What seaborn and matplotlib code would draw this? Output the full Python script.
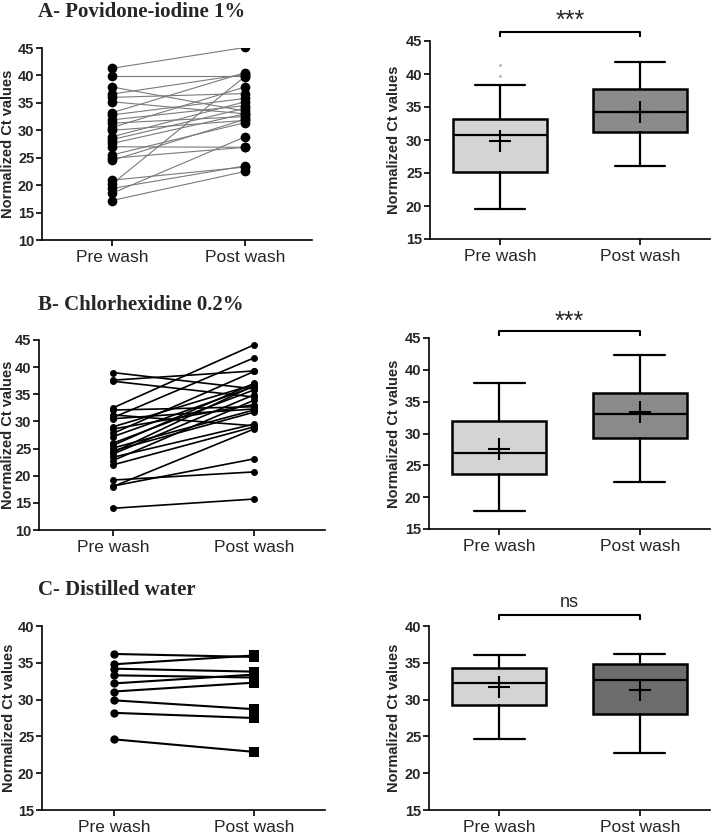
import numpy as np
import pandas as pd
import matplotlib
matplotlib.use("Agg")
import matplotlib.pyplot as plt
import seaborn as sns

sns.set_style("ticks")
plt.rcParams['font.family'] = ['Liberation Sans', 'DejaVu Sans']

# ---------------- data ----------------
categories = ["Pre wash", "Post wash"]

A_pre = [41.3, 39.9, 37.9, 36.6, 36.0, 35.2, 33.2, 32.8, 31.9, 31.3, 30.5, 30.0,
         28.8, 28.3, 27.6, 27.0, 25.5, 24.9, 24.5, 20.9, 20.2, 19.4, 18.5, 17.2]
A_post = [45.1, 39.9, 33.5, 40.2, 36.7, 33.0, 40.5, 35.8, 34.5, 32.5, 37.9, 31.8,
          35.2, 34.0, 33.0, 26.9, 31.4, 26.9, 32.0, 23.3, 39.8, 23.5, 28.8, 22.5]

B_pre = [39.0, 37.6, 37.4, 32.5, 32.1, 31.2, 30.7, 30.5, 29.0, 28.6, 27.8, 27.2, 26.0,
         25.6, 25.1, 24.6, 24.3, 24.0, 23.4, 22.8, 22.0, 19.2, 18.1, 18.0, 14.0]
B_post = [36.0, 39.3, 34.5, 44.1, 32.7, 29.2, 41.7, 32.3, 36.8, 33.1, 39.2, 36.4, 35.8,
          37.0, 32.1, 31.7, 36.6, 34.9, 29.5, 33.9, 29.0, 20.7, 23.1, 28.6, 15.7]

C_pre = [36.2, 34.8, 34.2, 33.3, 32.2, 31.1, 29.9, 28.2, 24.6]
C_post = [35.8, 36.0, 33.8, 33.0, 33.4, 32.3, 28.7, 27.5, 22.9]

# box statistics (min, q1, median, q3, max, mean) for Pre / Post
A_box_pre = [19.5, 25.2, 30.7, 33.2, 38.3, 29.9]
A_box_post = [26.1, 31.2, 34.2, 37.8, 41.8, 34.3]
A_fliers_pre = [41.3, 39.7]
B_box_pre = [17.9, 23.6, 27.0, 31.9, 38.0, 27.6]
B_box_post = [22.4, 29.3, 33.1, 36.4, 42.3, 33.3]
C_box_pre = [24.6, 29.2, 32.2, 34.3, 36.1, 31.7]
C_box_post = [22.8, 28.0, 32.7, 34.8, 36.2, 31.3]

titles = ["A- Povidone-iodine 1%", "B- Chlorhexidine 0.2%", "C- Distilled water"]
signif = ["***", "***", "ns"]

# ---------------- figure ----------------
W, H = 714, 839
fig = plt.figure(figsize=(W / 100, H / 100), dpi=100)


def ax_px(x0, y0, x1, y1):
    ax = fig.add_axes([x0 / W, 1 - y1 / H, (x1 - x0) / W, (y1 - y0) / H])
    ax._px = (x0, x1)
    return ax


def style_axes(ax, ylim, yticks, label_center_px):
    ax.set_ylim(*ylim)
    ax.set_yticks(yticks)
    ax.set_xticks([0, 1])
    ax.set_xticklabels(categories, fontsize=12.5)
    for lab in ax.get_yticklabels():
        lab.set_fontsize(10.5)
        lab.set_fontweight('bold')
    ax.set_ylabel("Normalized Ct values", fontsize=10.5, fontweight='bold')
    x0, x1 = ax._px
    ax.yaxis.set_label_coords((label_center_px + 6 - x0) / (x1 - x0), 0.5)
    ax.set_xlabel("")
    for s in ['top', 'right']:
        ax.spines[s].set_visible(False)
    for s in ['left', 'bottom']:
        ax.spines[s].set_linewidth(1.2)
        ax.spines[s].set_color('black')
    ax.tick_params(axis='both', direction='out', length=4.5, width=1.2, color='black')
    ax.tick_params(axis='y', pad=1)
    ax.tick_params(axis='x', pad=3)
    ax.set_facecolor('white')


def paired(ax, pre, post, lc, lw, ms, post_marker='o', post_ms=None):
    n = len(pre)
    df = pd.DataFrame({
        'id': list(range(n)) * 2,
        'x': [0] * n + [1] * n,
        'value': list(pre) + list(post),
        'cond': ['Pre'] * n + ['Post'] * n,
    })
    sns.lineplot(data=df, x='x', y='value', units='id', estimator=None,
                 color=lc, linewidth=lw, ax=ax, legend=False, zorder=2)
    sns.scatterplot(data=df[df.cond == 'Pre'], x='x', y='value', color='black',
                    marker='o', s=ms ** 2, edgecolor='black', linewidth=0,
                    ax=ax, legend=False, zorder=3)
    sns.scatterplot(data=df[df.cond == 'Post'], x='x', y='value', color='black',
                    marker=post_marker, s=(post_ms or ms) ** 2, edgecolor='black',
                    linewidth=0, ax=ax, legend=False, zorder=3)


def boxes(ax, pre_stats, post_stats, post_color, fliers_pre=()):
    stats = []
    for st, fl in ((pre_stats, fliers_pre), (post_stats, ())):
        mn, q1, med, q3, mx, mean = st
        stats.append(dict(whislo=mn, q1=q1, med=med, q3=q3, whishi=mx,
                          mean=mean, fliers=list(fl)))
    bp = ax.bxp(stats, positions=[0, 1], widths=0.67, showmeans=True,
                meanline=False, patch_artist=True, showfliers=True,
                boxprops=dict(linewidth=1.8, edgecolor='black'),
                whiskerprops=dict(linewidth=1.6, color='black'),
                capprops=dict(linewidth=1.6, color='black'),
                medianprops=dict(linewidth=1.6, color='black'),
                meanprops=dict(marker='+', markersize=16, markeredgewidth=1.5,
                               markeredgecolor='black'),
                flierprops=dict(marker='o', markersize=1.2, markerfacecolor='#bbbbbb',
                                markeredgecolor='#bbbbbb'),
                capwidths=0.36)
    bp['boxes'][0].set_facecolor('#d4d4d4')
    bp['boxes'][1].set_facecolor(post_color)


def bracket(ax, ybar, ytip, ytext, text, fs):
    ax.plot([0, 0, 1, 1], [ytip, ybar, ybar, ytip], color='black', lw=1.5,
            clip_on=False, solid_capstyle='butt')
    ax.text(0.5, ytext, text, ha='center', va='center', fontsize=fs, clip_on=False)


# ---- Row A ----
axA1 = ax_px(42, 48, 312, 240)
paired(axA1, A_pre, A_post, lc='#7a7a7a', lw=0.8, ms=7)
axA1.set_xlim(-0.526, 1.504)
style_axes(axA1, (10, 45), np.arange(10, 46, 5), 9)

axA2 = ax_px(430, 41, 710, 239)
boxes(axA2, A_box_pre, A_box_post, '#8a8a8a', A_fliers_pre)
axA2.set_xlim(-0.5, 1.5)
style_axes(axA2, (15, 45), np.arange(15, 46, 5), 395)
bracket(axA2, 46.35, 45.6, 48.0, signif[0], 18)

# ---- Row B ----
axB1 = ax_px(39, 340, 325, 530)
paired(axB1, B_pre, B_post, lc='black', lw=1.2, ms=5)
axB1.set_xlim(-0.525, 1.504)
style_axes(axB1, (10, 45), np.arange(10, 46, 5), 9)

axB2 = ax_px(429, 338, 710, 529)
boxes(axB2, B_box_pre, B_box_post, '#8a8a8a')
axB2.set_xlim(-0.5, 1.5)
style_axes(axB2, (15, 45), np.arange(15, 46, 5), 395)
bracket(axB2, 46.1, 45.3, 47.5, signif[1], 18)

# ---- Row C ----
axC1 = ax_px(42, 626, 325, 810)
paired(axC1, C_pre, C_post, lc='black', lw=1.5, ms=6, post_marker='s', post_ms=6.5)
axC1.set_xlim(-0.514, 1.507)
style_axes(axC1, (15, 40), np.arange(15, 41, 5), 10)

axC2 = ax_px(429, 626, 710, 810)
boxes(axC2, C_box_pre, C_box_post, '#6c6c6c')
axC2.set_xlim(-0.5, 1.5)
style_axes(axC2, (15, 40), np.arange(15, 41, 5), 395)
bracket(axC2, 41.5, 40.8, 43.2, signif[2], 13)

# ---- titles ----
for t, y in zip(titles, [12, 305, 590]):
    fig.text(38 / W, 1 - y / H, t, ha='left', va='center', fontsize=15,
             fontweight='bold', family=['Liberation Serif', 'DejaVu Serif'])

fig.savefig("out.png", dpi=100, facecolor='white')
